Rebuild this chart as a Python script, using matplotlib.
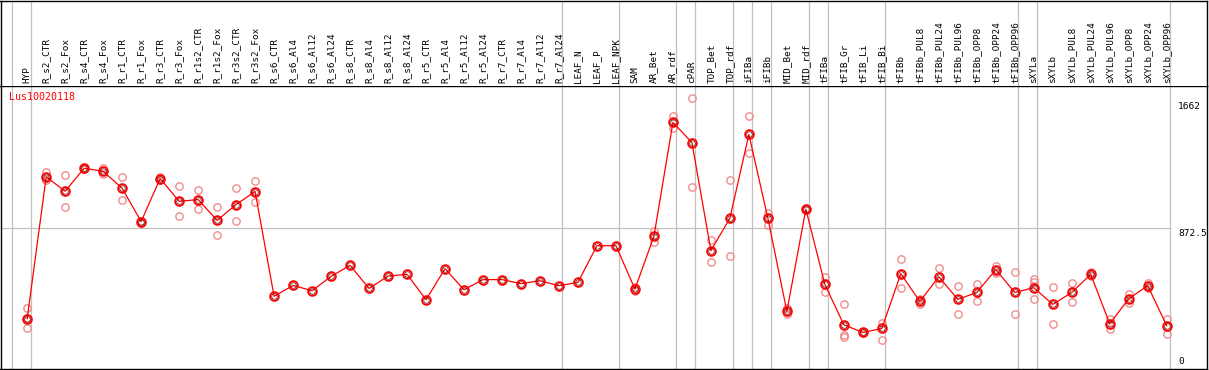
import matplotlib
matplotlib.use('Agg')
import matplotlib.pyplot as plt
import matplotlib.transforms as mtransforms

# sample names along the top
samples = ['HYP', 'R_s2_CTR', 'R_s2_Fox', 'R_s4_CTR', 'R_s4_Fox', 'R_r1_CTR', 'R_r1_Fox',
           'R_r3_CTR', 'R_r3_Fox', 'R_r1s2_CTR', 'R_r1s2_Fox', 'R_r3s2_CTR', 'R_r3s2_Fox',
           'R_s6_CTR', 'R_s6_Al4', 'R_s6_Al12', 'R_s6_Al24', 'R_s8_CTR', 'R_s8_Al4',
           'R_s8_Al12', 'R_s8_Al24', 'R_r5_CTR', 'R_r5_Al4', 'R_r5_Al12', 'R_r5_Al24',
           'R_r7_CTR', 'R_r7_Al4', 'R_r7_Al12', 'R_r7_Al24', 'LEAF_N', 'LEAF_P', 'LEAF_NPK',
           'SAM', 'AR_Bet', 'AR_rdf', 'cPAR', 'TOP_Bet', 'TOP_rdf', 'iFIBa', 'iFIBb',
           'MID_Bet', 'MID_rdf', 'tFIBa', 'tFIB_Gr', 'tFIB_Li', 'tFIB_Bi', 'tFIBb',
           'tFIBb_PUL8', 'tFIBb_PUL24', 'tFIBb_PUL96', 'tFIBb_OPP8', 'tFIBb_OPP24',
           'tFIBb_OPP96', 'sXYLa', 'sXYLb', 'sXYLb_PUL8', 'sXYLb_PUL24', 'sXYLb_PUL96',
           'sXYLb_OPP8', 'sXYLb_OPP24', 'sXYLb_OPP96']

# mean expression per sample
means = [310, 1192, 1103, 1246, 1227, 1121, 914, 1182, 1040, 1051, 922, 1020, 1101,
         449, 517, 484, 573, 642, 498, 575, 586, 428, 621, 490, 553, 553, 528, 546, 515,
         536, 764, 764, 494, 822, 1531, 1406, 733, 935, 1456, 935, 355, 991, 523, 272,
         224, 249, 590, 417, 571, 430, 473, 615, 473, 503, 399, 473, 586, 278, 434, 515, 266]

# individual replicates
reps = [[378, 313, 254], [1223, 1171], [1201, 1003], [1250, 1240], [1250, 1207],
        [1194, 1047], [920, 905], [1190, 1175], [1138, 947], [1109, 995], [1003, 833],
        [1126, 916], [1165, 1036],
        [], [], [], [], [], [], [], [], [], [], [], [], [], [], [], [], [], [], [],
        [507, 480], [854, 787], [1570, 1497], [1682, 1132], [797, 665], [1171, 698],
        [1570, 1338], [970, 895], [374, 336], [995, 985], [567, 473], [403, 210, 199],
        [230, 218], [282, 179], [683, 498], [403, 430], [623, 525], [515, 341],
        [523, 422], [637, 592], [602, 341], [556, 536, 434], [509, 278], [534, 411],
        [602, 573], [310, 247], [465, 409], [534, 498], [310, 216]]

# group separators (drawn after these sample indices)
separators = [-1, 0, 28, 31, 34, 35, 37, 38, 39, 41, 42, 45, 52, 53, 60]

title = 'Lus10020118'
ymax_label = '1662'
ymid = 872.5
ytop = 1757.5

W, H = 1209, 370
grey = '#c0c0c0'
mono = 'DejaVu Sans Mono'

fig = plt.figure(figsize=(W / 100, H / 100), dpi=100)

x0 = -26.7 / 19
x1 = (1207 - 26.7) / 19

ax = fig.add_axes([0.5 / W, (H - 368.5) / H, 1206.5 / W, (368.5 - 86) / H])
hd = fig.add_axes([0.5 / W, (H - 85.5) / H, 1206.5 / W, 85 / H])

for a in (ax, hd):
    a.set_xlim(x0, x1)
    a.set_xticks([])
    a.set_yticks([])
    for s in a.spines.values():
        s.set_linewidth(1.0)
        s.set_color('black')
    for i in separators:
        a.axvline(i + 0.18, color=grey, lw=0.9, zorder=0)
hd.set_ylim(0, 1)
hd.spines['bottom'].set_visible(False)
ax.set_ylim(0, ytop)

# horizontal mid line
ax.plot([x0, 60.18], [ymid, ymid], color=grey, lw=0.9, zorder=0)

xs = list(range(len(samples)))
for i, r in enumerate(reps):
    if r:
        ax.plot([i] * len(r), r, linestyle='none', marker='o', markersize=5.3,
                markerfacecolor='none', markeredgecolor='#f08c8c', markeredgewidth=1.0,
                zorder=2)

ax.plot(xs, means, color='red', lw=0.9, zorder=3)
ax.plot(xs, means, linestyle='none', marker='o', markersize=6.3, markerfacecolor='none',
        markeredgecolor='red', markeredgewidth=1.3, zorder=4)
ax.plot(xs, means, linestyle='none', marker='o', markersize=4.0, markerfacecolor='none',
        markeredgecolor='#600000', markeredgewidth=0.5, zorder=5)

trans = mtransforms.blended_transform_factory(hd.transData, hd.transAxes)
for i, name in enumerate(samples):
    hd.text(i, 2.5 / 85, name, rotation=90, ha='center', va='bottom',
            fontsize=6.7, family=mono, transform=trans)

fig.text(9.5 / W, (H - 97) / H, title, color='red', fontsize=7.2, family=mono,
         ha='left', va='center')

fig.text(1178 / W, (H - 102) / H, ymax_label, fontsize=6.8, family=mono, ha='left', va='top')
fig.text(1178 / W, (H - 228.5) / H, '872.5', fontsize=6.8, family=mono, ha='left', va='top')
fig.text(1178 / W, (H - 357.5) / H, '0', fontsize=6.8, family=mono, ha='left', va='top')

fig.savefig('out.png', dpi=100)
